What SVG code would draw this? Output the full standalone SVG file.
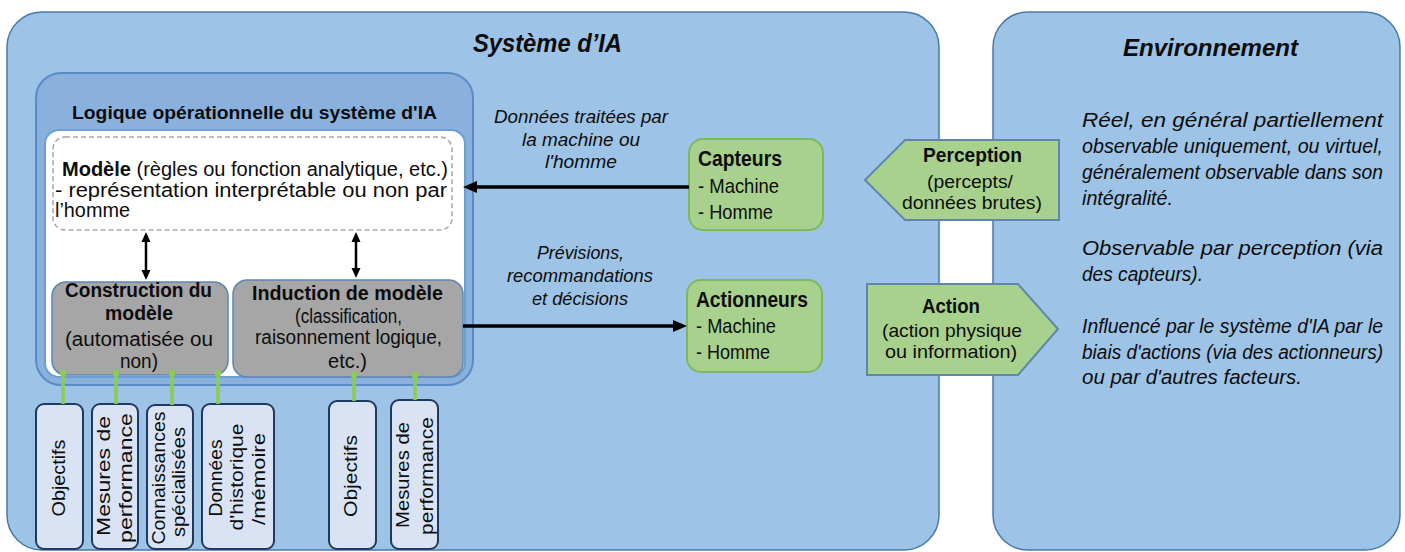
<svg xmlns="http://www.w3.org/2000/svg" width="1405" height="552" viewBox="0 0 1405 552">
<defs>
<style>
.t{font-family:"Liberation Sans",Arial,sans-serif;fill:#0d0d0d}
.b{font-weight:bold}
.i{font-style:italic}
.outer{fill:#9DC3E6;stroke:#4A78A8;stroke-width:1.5}
.gray{fill:#A6A6A6;stroke:#5B87B5;stroke-width:1.5}
.green{fill:#A9D18E;stroke:#7FB85C;stroke-width:2}
.arrowshape{fill:#A9D18E;stroke:#5F87AD;stroke-width:2}
.inbox{fill:#DAE3F3;stroke:#1F3864;stroke-width:2}
.gl{stroke:#8DCC4E;stroke-width:3.5;fill:none}
.gd{fill:#8DCC4E}
.ar{stroke:#000;stroke-width:3.5;fill:none}
.ar2{stroke:#000;stroke-width:2.5;fill:none}
</style>
<marker id="ah" markerUnits="userSpaceOnUse" markerWidth="14" markerHeight="14" viewBox="0 0 14 14" refX="7" refY="7" orient="auto-start-reverse"><path d="M0,1 L14,7 L0,13 z" fill="#000"/></marker>
<marker id="ahs" markerUnits="userSpaceOnUse" markerWidth="10" markerHeight="10" viewBox="0 0 10 10" refX="5" refY="5" orient="auto-start-reverse"><path d="M0,0.5 L10,5 L0,9.5 z" fill="#000"/></marker>
</defs>

<g id="systeme-ia">
<rect class="outer" x="7" y="12" width="932" height="538" rx="35"/>
<text class="t b i" x="473" y="52" font-size="25" textLength="149" lengthAdjust="spacingAndGlyphs">Système d’IA</text>
</g>

<g id="environnement">
<rect class="outer" x="993" y="12" width="407" height="538" rx="35"/>
<text class="t b i" x="1123" y="56" font-size="24" textLength="175" lengthAdjust="spacingAndGlyphs">Environnement</text>
<g class="t i" font-size="20">
<text x="1082" y="127" textLength="301" lengthAdjust="spacingAndGlyphs">Réel, en général partiellement</text>
<text x="1082" y="153" textLength="301" lengthAdjust="spacingAndGlyphs">observable uniquement, ou virtuel,</text>
<text x="1082" y="179" textLength="301" lengthAdjust="spacingAndGlyphs">généralement observable dans son</text>
<text x="1082" y="205" textLength="91" lengthAdjust="spacingAndGlyphs">intégralité.</text>
<text x="1082" y="255" textLength="301" lengthAdjust="spacingAndGlyphs">Observable par perception (via</text>
<text x="1082" y="281" textLength="121" lengthAdjust="spacingAndGlyphs">des capteurs).</text>
<text x="1082" y="333" textLength="301" lengthAdjust="spacingAndGlyphs">Influencé par le système d'IA par le</text>
<text x="1082" y="359" textLength="301" lengthAdjust="spacingAndGlyphs">biais d'actions (via des actionneurs)</text>
<text x="1082" y="384" textLength="220" lengthAdjust="spacingAndGlyphs">ou par d'autres facteurs.</text>
</g>
</g>

<g id="logique">
<rect x="36" y="73" width="437" height="312" rx="25" fill="#8AB0DE" stroke="#5B8BC7" stroke-width="2"/>
<rect x="45" y="130" width="420" height="247" rx="14" fill="#FFFFFF" stroke="#6E9FD4" stroke-width="2"/>
<text class="t b" x="72" y="119" font-size="19" textLength="365" lengthAdjust="spacingAndGlyphs">Logique opérationnelle du système d'IA</text>
</g>

<g id="modele">
<rect x="53" y="137" width="399" height="93" rx="12" fill="none" stroke="#A6A6A6" stroke-width="1.5" stroke-dasharray="5 3"/>
<text class="t" x="62" y="176" font-size="20" textLength="386" lengthAdjust="spacingAndGlyphs"><tspan class="b">Modèle</tspan> (règles ou fonction analytique, etc.)</text>
<text class="t" x="55" y="197" font-size="20" textLength="392" lengthAdjust="spacingAndGlyphs">- représentation interprétable ou non par</text>
<text class="t" x="55" y="217" font-size="20" textLength="75" lengthAdjust="spacingAndGlyphs">l’homme</text>
</g>

<g id="construction">
<rect class="gray" x="52" y="282" width="176" height="93" rx="14"/>
<text class="t b" x="65" y="297" font-size="20" textLength="147" lengthAdjust="spacingAndGlyphs">Construction du</text>
<text class="t b" x="105" y="320" font-size="20" textLength="68" lengthAdjust="spacingAndGlyphs">modèle</text>
<text class="t" x="65" y="346" font-size="20" textLength="148" lengthAdjust="spacingAndGlyphs">(automatisée ou</text>
<text class="t" x="120" y="368" font-size="20" textLength="38" lengthAdjust="spacingAndGlyphs">non)</text>
</g>

<g id="induction">
<rect class="gray" x="233" y="280" width="230" height="97" rx="14"/>
<text class="t b" x="252" y="300" font-size="20" textLength="191" lengthAdjust="spacingAndGlyphs">Induction de modèle</text>
<text class="t" x="295" y="323" font-size="20" textLength="107" lengthAdjust="spacingAndGlyphs">(classification,</text>
<text class="t" x="255" y="344" font-size="20" textLength="187" lengthAdjust="spacingAndGlyphs">raisonnement logique,</text>
<text class="t" x="328" y="368" font-size="20" textLength="39" lengthAdjust="spacingAndGlyphs">etc.)</text>
</g>

<g id="capteurs">
<rect class="green" x="689" y="139" width="134" height="91" rx="14"/>
<text class="t b" x="698" y="166" font-size="22" textLength="84" lengthAdjust="spacingAndGlyphs">Capteurs</text>
<text class="t" x="698" y="193" font-size="21" textLength="81" lengthAdjust="spacingAndGlyphs">- Machine</text>
<text class="t" x="698" y="219" font-size="21" textLength="75" lengthAdjust="spacingAndGlyphs">- Homme</text>
</g>

<g id="actionneurs">
<rect class="green" x="687" y="280" width="135" height="92" rx="14"/>
<text class="t b" x="696" y="307" font-size="22" textLength="112" lengthAdjust="spacingAndGlyphs">Actionneurs</text>
<text class="t" x="696" y="333" font-size="21" textLength="80" lengthAdjust="spacingAndGlyphs">- Machine</text>
<text class="t" x="696" y="359" font-size="21" textLength="74" lengthAdjust="spacingAndGlyphs">- Homme</text>
</g>

<g id="perception">
<polygon class="arrowshape" points="865,180 905,140 1059,140 1059,220 905,220"/>
<text class="t b" x="923" y="162" font-size="20" textLength="99" lengthAdjust="spacingAndGlyphs">Perception</text>
<text class="t" x="927" y="188" font-size="19" textLength="86" lengthAdjust="spacingAndGlyphs">(percepts/</text>
<text class="t" x="902" y="209" font-size="19" textLength="140" lengthAdjust="spacingAndGlyphs">données brutes)</text>
</g>

<g id="action">
<polygon class="arrowshape" points="867,284 1018,284 1058,329 1018,375 867,375"/>
<text class="t b" x="922" y="313" font-size="20" textLength="58" lengthAdjust="spacingAndGlyphs">Action</text>
<text class="t" x="882" y="337" font-size="19" textLength="140" lengthAdjust="spacingAndGlyphs">(action physique</text>
<text class="t" x="885" y="358" font-size="19" textLength="132" lengthAdjust="spacingAndGlyphs">ou information)</text>
</g>

<g id="objectifs-1">
<rect class="inbox" x="36" y="404" width="47" height="145" rx="8"/>
<text class="t" transform="translate(65,478) rotate(-90)" text-anchor="middle" font-size="19" textLength="77" lengthAdjust="spacingAndGlyphs">Objectifs</text>
</g>
<g id="mesures-1">
<rect class="inbox" x="92" y="404" width="46" height="145" rx="8"/>
<text class="t" transform="translate(110,476) rotate(-90)" text-anchor="middle" font-size="19" textLength="120" lengthAdjust="spacingAndGlyphs">Mesures de</text>
<text class="t" transform="translate(132,478) rotate(-90)" text-anchor="middle" font-size="19" textLength="130" lengthAdjust="spacingAndGlyphs">performance</text>
</g>
<g id="connaissances">
<rect class="inbox" x="147" y="405" width="46" height="144" rx="8"/>
<text class="t" transform="translate(165,478) rotate(-90)" text-anchor="middle" font-size="19" textLength="133" lengthAdjust="spacingAndGlyphs">Connaissances</text>
<text class="t" transform="translate(185,482) rotate(-90)" text-anchor="middle" font-size="19" textLength="110" lengthAdjust="spacingAndGlyphs">spécialisées</text>
</g>
<g id="donnees">
<rect class="inbox" x="202" y="404" width="72" height="145" rx="8"/>
<text class="t" transform="translate(222,478) rotate(-90)" text-anchor="middle" font-size="19" textLength="77" lengthAdjust="spacingAndGlyphs">Données</text>
<text class="t" transform="translate(243,477) rotate(-90)" text-anchor="middle" font-size="19" textLength="107" lengthAdjust="spacingAndGlyphs">d'historique</text>
<text class="t" transform="translate(265,479) rotate(-90)" text-anchor="middle" font-size="19" textLength="92" lengthAdjust="spacingAndGlyphs">/mémoire</text>
</g>
<g id="objectifs-2">
<rect class="inbox" x="329" y="401" width="47" height="148" rx="8"/>
<text class="t" transform="translate(357,476) rotate(-90)" text-anchor="middle" font-size="19" textLength="82" lengthAdjust="spacingAndGlyphs">Objectifs</text>
</g>
<g id="mesures-2">
<rect class="inbox" x="391" y="400" width="47" height="149" rx="8"/>
<text class="t" transform="translate(409,475) rotate(-90)" text-anchor="middle" font-size="19" textLength="106" lengthAdjust="spacingAndGlyphs">Mesures de</text>
<text class="t" transform="translate(433,476) rotate(-90)" text-anchor="middle" font-size="19" textLength="118" lengthAdjust="spacingAndGlyphs">performance</text>
</g>

<g id="connectors">
<path class="ar" d="M689,187 L470,187" marker-end="url(#ah)"/>
<path class="ar" d="M463,326 L680,326" marker-end="url(#ah)"/>
<path class="ar2" d="M146,237 L146,275" marker-start="url(#ahs)" marker-end="url(#ahs)"/>
<path class="ar2" d="M356,237 L356,273" marker-start="url(#ahs)" marker-end="url(#ahs)"/>
<text class="t i" x="494" y="123" font-size="19" textLength="174" lengthAdjust="spacingAndGlyphs">Données traitées par</text>
<text class="t i" x="522" y="146" font-size="19" textLength="118" lengthAdjust="spacingAndGlyphs">la machine ou</text>
<text class="t i" x="545" y="168" font-size="19" textLength="72" lengthAdjust="spacingAndGlyphs">l'homme</text>
<text class="t i" x="537" y="259" font-size="19" textLength="87" lengthAdjust="spacingAndGlyphs">Prévisions,</text>
<text class="t i" x="507" y="282" font-size="19" textLength="146" lengthAdjust="spacingAndGlyphs">recommandations</text>
<text class="t i" x="532" y="305" font-size="19" textLength="96" lengthAdjust="spacingAndGlyphs">et décisions</text>
<path class="gl" d="M63,373 V404 M116,373 V404 M172,373 V405 M218,373 V404 M354,375 V401 M415,375 V400"/>
<circle class="gd" cx="63" cy="373" r="3.2"/>
<circle class="gd" cx="116" cy="373" r="3.2"/>
<circle class="gd" cx="172" cy="373" r="3.2"/>
<circle class="gd" cx="218" cy="373" r="3.2"/>
<circle class="gd" cx="354" cy="375" r="3.2"/>
<circle class="gd" cx="415" cy="375" r="3.2"/>
</g>
</svg>
